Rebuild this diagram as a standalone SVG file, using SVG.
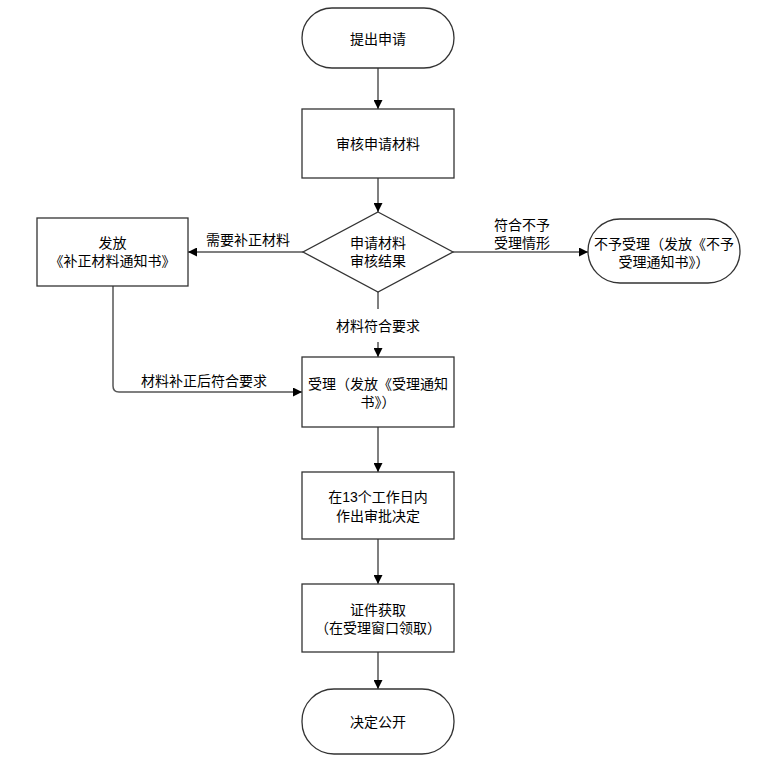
<svg xmlns="http://www.w3.org/2000/svg" width="759" height="766" viewBox="0 0 759 766">
<style>
.n{fill:#fff;stroke:#333;stroke-width:1.3}
.t{font-family:"Liberation Sans","Noto Sans CJK SC",sans-serif;font-size:14px;fill:#000;text-anchor:middle;dominant-baseline:central}
.c{fill:none;stroke:#555;stroke-width:1.5}
</style>
<defs>
<marker id="ah" viewBox="0 0 10 10" refX="10" refY="5" markerWidth="6" markerHeight="6" orient="auto" markerUnits="strokeWidth">
<path d="M0,0 L10,5 L0,10 z" fill="#000"/>
</marker>
</defs>
<rect width="759" height="766" fill="#fff"/>
<g id="connectors">
<path class="c" d="M378,68 V109" marker-end="url(#ah)"/>
<path class="c" d="M378,178 V212" marker-end="url(#ah)"/>
<path class="c" d="M303,252 H188" marker-end="url(#ah)"/>
<path class="c" d="M453,252 H588" marker-end="url(#ah)"/>
<path class="c" d="M378,292 V309"/>
<path class="c" d="M378,342 V357" marker-end="url(#ah)"/>
<path class="c" d="M113,286 V386 Q113,392 119,392 H302" marker-end="url(#ah)"/>
<path class="c" d="M378,427 V472" marker-end="url(#ah)"/>
<path class="c" d="M378,539 V584" marker-end="url(#ah)"/>
<path class="c" d="M378,652 V689" marker-end="url(#ah)"/>
<text class="t" x="248" y="240">需要补正材料</text>
<text class="t" x="522" y="225">符合不予</text>
<text class="t" x="522" y="243">受理情形</text>
<text class="t" x="378" y="326">材料符合要求</text>
<text class="t" x="204" y="381">材料补正后符合要求</text>
</g>
<g id="start">
<rect class="n" x="302" y="8" width="152" height="60" rx="30"/>
<text class="t" x="378" y="39">提出申请</text>
</g>
<g id="review">
<rect class="n" x="302" y="109" width="152" height="69"/>
<text class="t" x="378" y="144">审核申请材料</text>
</g>
<g id="decision">
<polygon class="n" points="378,212 453,252 378,292 303,252"/>
<text class="t" x="378" y="243">申请材料</text>
<text class="t" x="378" y="261">审核结果</text>
</g>
<g id="supplement">
<rect class="n" x="37" y="218" width="151" height="68"/>
<text class="t" x="112.5" y="243">发放</text>
<text class="t" x="112.5" y="261">《补正材料通知书》</text>
</g>
<g id="reject">
<rect class="n" x="588" y="219" width="152" height="64" rx="32"/>
<text class="t" x="664" y="244">不予受理（发放《不予</text>
<text class="t" x="664" y="262">受理通知书》）</text>
</g>
<g id="accept">
<rect class="n" x="302" y="357" width="152" height="70"/>
<text class="t" x="378" y="384">受理（发放《受理通知</text>
<text class="t" x="378" y="402">书》）</text>
</g>
<g id="decide">
<rect class="n" x="302" y="472" width="152" height="67"/>
<text class="t" x="378" y="497">在13个工作日内</text>
<text class="t" x="378" y="516">作出审批决定</text>
</g>
<g id="obtain">
<rect class="n" x="302" y="584" width="152" height="68"/>
<text class="t" x="378" y="610">证件获取</text>
<text class="t" x="378" y="628">（在受理窗口领取）</text>
</g>
<g id="end">
<rect class="n" x="302" y="689" width="152" height="65" rx="32"/>
<text class="t" x="378" y="722">决定公开</text>
</g>
</svg>
